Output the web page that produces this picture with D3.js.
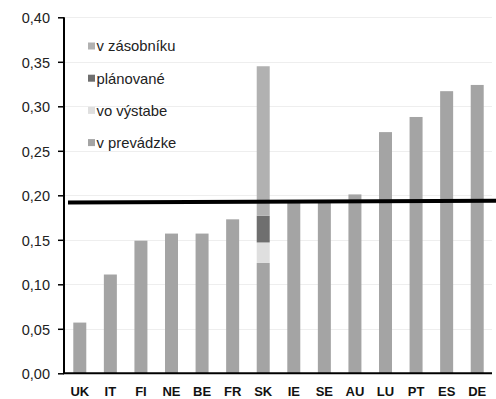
<!DOCTYPE html>
<html>
<head>
<meta charset="utf-8">
<script src="https://cdn.jsdelivr.net/npm/d3@7"></script>
<style>
  html, body { margin: 0; padding: 0; background: #fff; }
  svg { display: block; font-family: "Liberation Sans", Arial, sans-serif; }
</style>
</head>
<body>
<svg id="chart" width="496" height="399"></svg>
<script>
// Countries along the x axis
const countries = ["UK", "IT", "FI", "NE", "BE", "FR", "SK", "IE", "SE", "AU", "LU", "PT", "ES", "DE"];

// Stack layers (bottom to top) and their legend labels
const seriesKeys = ["prevadzka", "vystavba", "planovane", "zasobnik"];
const seriesLabels = {
  zasobnik: "v zásobníku",
  planovane: "plánované",
  vystavba: "vo výstabe",
  prevadzka: "v prevádzke"
};
const seriesColors = {
  zasobnik: "#b1b1b1",
  planovane: "#6f6f6f",
  vystavba: "#dfdfdf",
  prevadzka: "#a4a4a4"
};

// Values per layer, one per country
const prevadzka = [0.057, 0.111, 0.149, 0.157, 0.157, 0.173, 0.124, 0.192, 0.193, 0.201, 0.271, 0.288, 0.317, 0.324];
const vystavba  = [0, 0, 0, 0, 0, 0, 0.023, 0, 0, 0, 0, 0, 0, 0];
const planovane = [0, 0, 0, 0, 0, 0, 0.030, 0, 0, 0, 0, 0, 0, 0];
const zasobnik  = [0, 0, 0, 0, 0, 0, 0.168, 0, 0, 0, 0, 0, 0, 0];

// Horizontal reference level (start and end value)
const referenceLine = [0.192, 0.194];

// Y axis tick values and labels
const yTicks = [0, 0.05, 0.10, 0.15, 0.20, 0.25, 0.30, 0.35, 0.40];
const yTickLabels = ["0,00", "0,05", "0,10", "0,15", "0,20", "0,25", "0,30", "0,35", "0,40"];

const legendOrder = ["zasobnik", "planovane", "vystavba", "prevadzka"];

const rows = countries.map((c, i) => ({
  country: c,
  prevadzka: prevadzka[i],
  vystavba: vystavba[i],
  planovane: planovane[i],
  zasobnik: zasobnik[i]
}));

const svg = d3.select("#chart");
const W = 496;

const x = d3.scaleBand()
  .domain(countries)
  .range([64.5, 492.5])
  .paddingInner(0.575)
  .paddingOuter(0.2875);

const y = d3.scaleLinear()
  .domain([0, 0.4])
  .range([373.3, 17.3]);

// Light gridlines
svg.append("g")
  .selectAll("line")
  .data(yTicks.slice(1))
  .join("line")
  .attr("x1", 65)
  .attr("x2", 492)
  .attr("y1", d => Math.round(y(d)) + 0.5)
  .attr("y2", d => Math.round(y(d)) + 0.5)
  .attr("stroke", "#eeeeee")
  .attr("stroke-width", 1);

// Stacked bars
const stack = d3.stack().keys(seriesKeys)(rows);
svg.append("g")
  .selectAll("g")
  .data(stack)
  .join("g")
  .attr("fill", d => seriesColors[d.key])
  .selectAll("rect")
  .data(d => d.filter(p => p[1] - p[0] > 0))
  .join("rect")
  .attr("x", d => x(d.data.country))
  .attr("width", x.bandwidth())
  .attr("y", d => y(d[1]))
  .attr("height", d => y(d[0]) - y(d[1]));

// Y axis
const yAxis = d3.axisLeft(y)
  .tickValues(yTicks)
  .tickFormat((d, i) => yTickLabels[i])
  .tickSize(6)
  .tickPadding(8);

const gy = svg.append("g")
  .attr("transform", "translate(64,0)")
  .call(yAxis);
gy.select(".domain")
  .attr("d", `M0,${y(0.4)}V${y(0)}`)
  .attr("stroke", "#000")
  .attr("stroke-width", 2);
gy.selectAll(".tick line").attr("stroke", "#000").attr("stroke-width", 1.5);
gy.selectAll(".tick text")
  .attr("fill", "#222")
  .attr("font-size", 14.5)
  .attr("dy", "0.36em");

// X axis
const xAxis = d3.axisBottom(x).tickSize(0).tickPadding(13.5);
const gx = svg.append("g")
  .attr("transform", `translate(0,${y(0)})`)
  .call(xAxis);
gx.select(".domain")
  .attr("d", "M63,0H492")
  .attr("stroke", "#000")
  .attr("stroke-width", 2);
gx.selectAll(".tick text")
  .attr("fill", "#111")
  .attr("font-size", 13)
  .attr("font-weight", "bold");

// Reference level line
svg.append("line")
  .attr("x1", 68)
  .attr("x2", W)
  .attr("y1", y(referenceLine[0]))
  .attr("y2", y(referenceLine[1]))
  .attr("stroke", "#000")
  .attr("stroke-width", 4);

// Legend
const legend = svg.append("g")
  .selectAll("g")
  .data(legendOrder)
  .join("g")
  .attr("transform", (d, i) => `translate(88,${46 + i * 32.2})`);
legend.append("rect")
  .attr("x", 0)
  .attr("y", -3.5)
  .attr("width", 7)
  .attr("height", 7)
  .attr("fill", d => seriesColors[d]);
legend.append("text")
  .attr("x", 8.5)
  .attr("dy", "0.36em")
  .attr("font-size", 14.8)
  .attr("fill", "#222")
  .text(d => seriesLabels[d]);
</script>
</body>
</html>
